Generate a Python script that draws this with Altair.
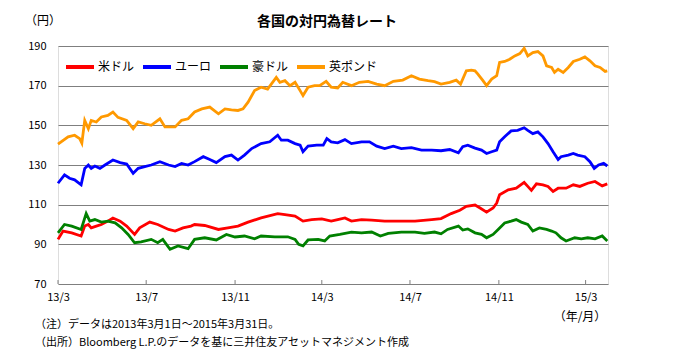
import altair as alt
import pandas as pd

FONT = "Noto Sans CJK JP"

series_names = ["米ドル", "ユーロ", "豪ドル", "英ポンド"]
series_colors = ["#FF0000", "#0000FF", "#008000", "#FF9900"]

usd_dates = ["2013-03-01","2013-03-08","2013-03-20","2013-04-02","2013-04-07","2013-04-12","2013-04-16","2013-04-23","2013-04-30","2013-05-09","2013-05-16","2013-05-26","2013-06-04","2013-06-15","2013-06-22","2013-07-06","2013-07-17","2013-08-01","2013-08-10","2013-08-21","2013-09-01","2013-09-06","2013-09-20","2013-10-09","2013-10-22","2013-11-05","2013-11-19","2013-12-07","2013-12-30","2014-01-09","2014-01-23","2014-02-03","2014-02-15","2014-03-01","2014-03-14","2014-03-23","2014-04-02","2014-04-11","2014-04-25","2014-05-09","2014-05-27","2014-06-19","2014-07-08","2014-07-31","2014-08-13","2014-08-27","2014-09-08","2014-09-17","2014-09-29","2014-10-06","2014-10-15","2014-10-24","2014-10-29","2014-11-02","2014-11-14","2014-11-25","2014-12-06","2014-12-11","2014-12-16","2014-12-23","2015-01-01","2015-01-08","2015-01-15","2015-01-22","2015-02-02","2015-02-12","2015-02-21","2015-03-04","2015-03-14","2015-03-24","2015-03-31"]
usd_values = [92.5,96.7,95.8,94.2,99.2,100,98.3,99.2,100,101.7,103.3,101.7,99.2,95,98.3,101.2,100,97.5,96.7,98.3,99.2,100,99.5,97.5,98.3,99.2,101.2,103.3,105.5,105,104.2,101.7,102.5,102.8,101.7,102.5,103.3,101.7,102.5,102.2,101.7,101.7,101.7,102.5,103,105.5,107.2,109.2,109.8,108.3,106.2,108.3,110.8,115,117.5,118.3,121.2,119.2,117.2,120.5,120,119.2,116.7,118.3,118.3,120,119.2,120.8,121.7,119.5,120.5]

eur_dates = ["2013-03-01","2013-03-10","2013-03-17","2013-03-24","2013-04-02","2013-04-07","2013-04-12","2013-04-16","2013-04-21","2013-04-28","2013-05-05","2013-05-16","2013-05-26","2013-06-04","2013-06-13","2013-06-20","2013-06-29","2013-07-08","2013-07-20","2013-08-01","2013-08-10","2013-08-19","2013-08-28","2013-09-06","2013-09-18","2013-09-27","2013-10-06","2013-10-18","2013-10-27","2013-11-05","2013-11-14","2013-11-24","2013-12-07","2013-12-19","2013-12-30","2014-01-04","2014-01-13","2014-01-23","2014-01-30","2014-02-03","2014-02-10","2014-02-22","2014-03-03","2014-03-08","2014-03-14","2014-03-23","2014-04-02","2014-04-11","2014-04-25","2014-05-06","2014-05-16","2014-05-27","2014-06-08","2014-06-19","2014-07-03","2014-07-17","2014-07-31","2014-08-13","2014-08-25","2014-09-06","2014-09-12","2014-09-19","2014-09-29","2014-10-08","2014-10-15","2014-10-22","2014-10-29","2014-11-02","2014-11-09","2014-11-18","2014-11-27","2014-12-06","2014-12-11","2014-12-18","2014-12-25","2015-01-01","2015-01-08","2015-01-15","2015-01-22","2015-01-26","2015-02-05","2015-02-12","2015-02-18","2015-02-28","2015-03-07","2015-03-13","2015-03-19","2015-03-26","2015-03-31"]
eur_values = [120.8,125,123.3,122.5,120,128.3,130,128.3,129.5,128.3,130,132.5,131.2,130.5,125.8,128.3,129.2,130,131.7,130,129.2,130.8,130,131.7,134.2,132.8,131.2,134.2,135,132.5,135,138.3,140.8,141.7,145,142.5,142.5,140.8,140,136.7,139.5,140,140,143.3,141.7,141.2,142.8,140.8,141.7,141.7,139.5,138.3,139.5,138.3,138.8,137.5,137.5,137.2,137.8,136.2,139.2,140,138.5,137.5,135.8,136.7,137.5,141.7,144.2,147.2,147.5,148.8,147.5,145.8,146.7,144.2,140.8,136.7,132.8,134.2,135,135.8,135,134.2,131.7,128.3,130,130.8,129.5]

aud_dates = ["2013-03-01","2013-03-10","2013-03-20","2013-04-02","2013-04-09","2013-04-14","2013-04-21","2013-04-30","2013-05-09","2013-05-19","2013-05-28","2013-06-06","2013-06-15","2013-06-24","2013-07-08","2013-07-17","2013-07-24","2013-08-03","2013-08-14","2013-08-28","2013-09-06","2013-09-20","2013-10-06","2013-10-20","2013-11-01","2013-11-14","2013-11-28","2013-12-07","2013-12-26","2014-01-13","2014-01-23","2014-01-28","2014-02-03","2014-02-10","2014-02-24","2014-03-05","2014-03-12","2014-03-26","2014-04-11","2014-04-25","2014-05-09","2014-05-21","2014-06-01","2014-06-19","2014-07-08","2014-07-21","2014-08-04","2014-08-13","2014-08-22","2014-09-06","2014-09-12","2014-09-19","2014-09-29","2014-10-08","2014-10-15","2014-10-24","2014-10-31","2014-11-09","2014-11-18","2014-11-25","2014-12-02","2014-12-11","2014-12-18","2014-12-27","2015-01-06","2015-01-13","2015-01-19","2015-01-26","2015-02-02","2015-02-14","2015-02-23","2015-03-04","2015-03-14","2015-03-24","2015-03-31"]
aud_values = [95.8,100,99.2,97.5,105.5,101.7,102.5,101.2,101.7,100.8,98.3,95,90.8,91.2,92.5,90.8,92.5,87.5,89.2,87.8,92.5,93.3,92.2,95,93.7,94.2,92.8,94.2,93.8,93.8,92.5,90,89.2,92.2,92.5,91.7,94.2,95,96.2,95.8,96.2,94.2,95.5,96.2,96.2,95.5,96.2,95.3,97.5,99.2,97.2,97.8,95.8,95,93.3,95,97.5,100.8,101.7,102.5,101.2,100,96.7,98.3,97.5,96.7,95.8,93.3,91.7,93.3,92.8,93.3,92.8,94.2,91.7]

gbp_dates = ["2013-03-01","2013-03-15","2013-03-24","2013-03-31","2013-04-03","2013-04-07","2013-04-12","2013-04-16","2013-04-23","2013-04-30","2013-05-09","2013-05-16","2013-05-23","2013-06-04","2013-06-13","2013-06-20","2013-06-29","2013-07-08","2013-07-20","2013-07-27","2013-08-10","2013-08-19","2013-08-28","2013-09-06","2013-09-16","2013-09-27","2013-10-09","2013-10-18","2013-10-27","2013-11-05","2013-11-12","2013-11-19","2013-11-28","2013-12-07","2013-12-16","2013-12-28","2014-01-02","2014-01-09","2014-01-16","2014-01-23","2014-01-30","2014-02-03","2014-02-10","2014-02-19","2014-02-26","2014-03-07","2014-03-14","2014-03-23","2014-03-30","2014-04-11","2014-04-22","2014-05-04","2014-05-16","2014-05-27","2014-06-08","2014-06-21","2014-07-03","2014-07-14","2014-07-26","2014-08-04","2014-08-13","2014-08-25","2014-09-03","2014-09-09","2014-09-17","2014-09-24","2014-09-29","2014-10-03","2014-10-10","2014-10-15","2014-10-22","2014-10-29","2014-11-02","2014-11-09","2014-11-16","2014-11-23","2014-11-30","2014-12-06","2014-12-11","2014-12-18","2014-12-25","2015-01-01","2015-01-06","2015-01-13","2015-01-17","2015-01-22","2015-01-29","2015-02-05","2015-02-12","2015-02-21","2015-02-28","2015-03-07","2015-03-14","2015-03-21","2015-03-28","2015-03-31"]
gbp_values = [140.5,144.2,145,143.3,141,152.5,148.3,152.5,151.7,154.2,155,156.7,154,152.5,148.3,151.7,150.8,150,153.3,149.2,149.2,152.5,153.3,156.7,158.3,159.2,155.8,158.3,157.8,157.5,158.3,161.7,167.5,169.2,168.3,174.2,171.7,172.5,170,171.7,167.5,165,169.2,170,170,172.2,169.2,168.8,171.7,170,171.7,172.2,170.8,170,172.2,172.8,175,173.3,172.5,172,170.8,171.7,172.8,170.8,177.5,177.8,177.5,175.8,172.5,170,173.3,175,181.7,182.2,183.3,185,186.2,188.8,185,186.7,187.2,185,180,179.2,176.7,178.3,176.7,179.2,182.2,183.3,184.5,182.5,180,179.2,177.2,177.5]

tick_dates = ["2013-03-01","2013-07-01","2013-11-01","2014-03-01","2014-07-01","2014-11-01","2015-03-01"]
y_ticks = [70, 90, 110, 130, 150, 170, 190]
title_text = "各国の対円為替レート"
y_unit = "（円）"
x_unit = "（年/月）"
note_lines = ["（注）データは2013年3月1日～2015年3月31日。",
              "（出所）Bloomberg L.P.のデータを基に三井住友アセットマネジメント作成"]

frames = []
for name, ds, vs in zip(series_names, [usd_dates, eur_dates, aud_dates, gbp_dates],
                        [usd_values, eur_values, aud_values, gbp_values]):
    frames.append(pd.DataFrame({"date": [d + "T00:00:00" for d in ds], "value": vs, "series": name}))
df = pd.concat(frames, ignore_index=True)

x_vals = [alt.DateTime(year=int(d[:4]), month=int(d[5:7]), date=int(d[8:10])) for d in tick_dates]
x_scale = alt.Scale(domain=[alt.DateTime(year=2013, month=3, date=1),
                            alt.DateTime(year=2015, month=4, date=1)])
y_scale = alt.Scale(domain=[70, 190], nice=False, zero=False)

x_axis = alt.Axis(values=x_vals, format="%y/%-m", labelFlush=False, labelOverlap=False,
                  grid=False, ticks=False, domain=False, labelPadding=7,
                  labelFontSize=11, labelColor="#000", labelFont=FONT, title=None)
y_axis = alt.Axis(values=y_ticks, tickCount=7, grid=True, gridColor="#7f7f7f", gridWidth=1,
                  ticks=False, domain=False, labelPadding=12, labelFontSize=11,
                  labelOverlap=False, labelFlush=False, labelBound=False,
                  labelColor="#000", labelFont=FONT, title=None)

lines = alt.Chart(df).mark_line(strokeWidth=2.8).encode(
    x=alt.X("date:T", scale=x_scale, axis=x_axis),
    y=alt.Y("value:Q", scale=y_scale, axis=y_axis),
    color=alt.Color("series:N",
                    scale=alt.Scale(domain=series_names, range=series_colors),
                    sort=series_names,
                    legend=alt.Legend(title=None, orient="none", legendX=6, legendY=5,
                                      direction="horizontal", symbolType="stroke",
                                      symbolSize=784, symbolStrokeWidth=4, gridAlign="none",
                                      labelFont=FONT, labelFontSize=12, labelColor="#000",
                                      columnPadding=0, labelOffset=2)),
)

ticks_df = pd.DataFrame({"date": [d + "T00:00:00" for d in tick_dates],
                         "lo": [y_ticks[0]] * len(tick_dates),
                         "hi": [y_ticks[0] + 2] * len(tick_dates)})
tick_rules = alt.Chart(ticks_df).mark_rule(color="#7f7f7f", strokeWidth=1).encode(
    x=alt.X("date:T", scale=x_scale, axis=x_axis),
    y=alt.Y("lo:Q", scale=y_scale, axis=y_axis), y2="hi:Q")


def label(text, x, y, size=11, weight="normal", align="left"):
    return alt.Chart(pd.DataFrame({"t": [text]})).mark_text(
        align=align, baseline="middle", font=FONT, fontSize=size, fontWeight=weight,
        color="#000").encode(text="t:N", x=alt.value(x), y=alt.value(y))


texts = [
    label(title_text, 269, -24, size=14, weight="bold", align="center"),
    label(y_unit, -15, -25, size=12, align="center"),
    label(x_unit, 522, 33 + 238, size=12, align="center"),
    label(note_lines[0], -23, 279),
    label(note_lines[1], -23, 297),
]

chart = alt.layer(lines, tick_rules, *texts).properties(
    width=550, height=238,
    autosize=alt.AutoSizeParams(type="none"),
    padding={"left": 58, "top": 46, "right": 81, "bottom": 68},
).configure_view(stroke="#7f7f7f", strokeWidth=1).configure(background="white")

chart.save("out.html", embed_options={"renderer": "svg", "actions": False})
